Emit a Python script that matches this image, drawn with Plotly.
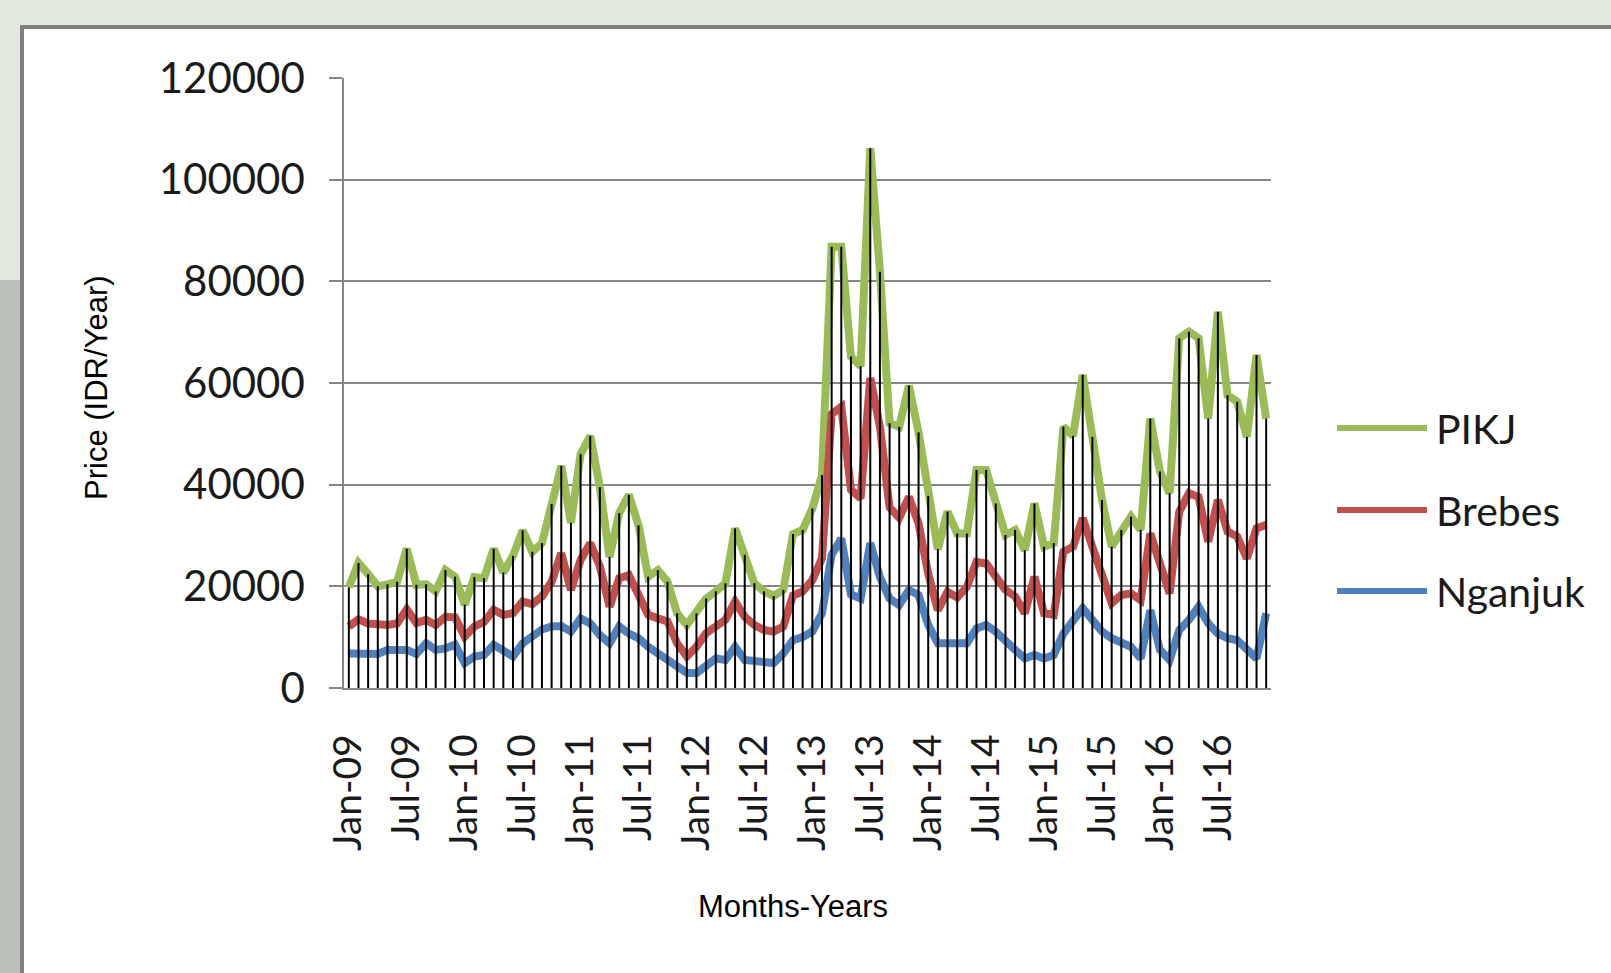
import plotly.graph_objects as go

MONTH_ABBR = ["Jan", "Feb", "Mar", "Apr", "May", "Jun", "Jul", "Aug", "Sep", "Oct", "Nov", "Dec"]
YEARS = ["09", "10", "11", "12", "13", "14", "15", "16"]
months = [f"{m}-{y}" for y in YEARS for m in MONTH_ABBR]
tick_labels = [f"{m}-{y}" for y in YEARS for m in ("Jan", "Jul")]

pikj = [
    19800, 24600, 22400, 20000, 20400, 20900, 27400, 20300, 20400, 19000, 23200, 21900,
    16400, 21800, 21600, 27400, 22700, 26000, 31000, 26800, 28500, 36200, 43700, 32500,
    46000, 49600, 39500, 25800, 34400, 38000, 32000, 21900, 23200, 20900, 14700, 12400,
    14700, 17600, 19000, 20600, 31400, 26200, 20600, 19000, 18100, 19300, 30300, 31100,
    35300, 41900, 86800, 86800, 65200, 63300, 106200, 81900, 52100, 51400, 59500, 50300,
    37800, 27300, 34700, 30400, 30400, 42900, 42900, 36300, 30100, 31100, 27100, 36300,
    27800, 28500, 51400, 49600, 61600, 49400, 37000, 27800, 31100, 33700, 31100, 53000,
    42600, 38300, 68800, 70100, 68800, 53000, 74000, 57600, 56300, 49400, 65500, 53000,
]
brebes = [
    12100, 13500, 12700, 12400, 12400, 12700, 15500, 12800, 13400, 12400, 14000, 13900,
    10100, 12100, 13000, 15400, 14400, 14700, 17000, 16500, 18000, 20900, 26500, 19300,
    25200, 28500, 23900, 16000, 21600, 22200, 18600, 14400, 13700, 13100, 8800, 6200,
    8100, 10800, 12100, 13400, 17000, 14000, 12400, 11400, 11100, 12100, 18200, 19000,
    21200, 25500, 53900, 55300, 39000, 37300, 61000, 51400, 35500, 33500, 37600, 32400,
    22500, 15300, 18900, 17800, 19900, 24800, 24500, 21900, 19300, 18000, 14700, 21900,
    14700, 14400, 26800, 27800, 33400, 27800, 21600, 16700, 18300, 18600, 17300, 30400,
    24500, 18600, 34700, 38300, 37600, 28800, 37000, 30800, 29800, 25500, 31400, 32100,
]
nganjuk = [
    6800, 6800, 6500, 6700, 7500, 7600, 7500, 6700, 8800, 7500, 7800, 8500,
    4900, 6200, 6500, 8500, 7500, 6200, 8800, 10400, 11500, 12100, 12200, 11100,
    13700, 12700, 10400, 8800, 12100, 10700, 9800, 8100, 6800, 5800, 4200, 3000,
    2900, 4500, 5800, 5500, 8100, 5500, 5200, 5200, 4900, 6800, 9400, 10000,
    11100, 14700, 26200, 29400, 18400, 17600, 28500, 21800, 17600, 16300, 19300, 18300,
    12400, 8800, 8800, 8800, 8800, 11700, 12400, 11100, 9100, 7500, 5800, 6500,
    5800, 6500, 10700, 13400, 15700, 13400, 11100, 9800, 9100, 8100, 5800, 15300,
    7500, 5500, 11400, 13400, 16000, 12700, 10700, 9800, 9400, 7800, 5800, 14700,
]

series_names = ["PIKJ", "Brebes", "Nganjuk"]
series_colors = ["#9bbb59", "#c0504d", "#4f81bd"]
series_values = [pikj, brebes, nganjuk]

W, H = 1611, 973
L, R, T, B = 344, 340, 78, 285
PW, PH = W - L - R, H - T - B


def px(xp):
    return (xp - L) / PW


def py(yp):
    return (T + PH - yp) / PH


fig = go.Figure()

for name, color, vals in zip(series_names, series_colors, series_values):
    fig.add_trace(go.Scatter(
        x=months, y=vals, mode="lines", name=name,
        line=dict(color=color, width=8), showlegend=False,
    ))

# drop lines from each month's highest point to the axis
dx, dy = [], []
for i, m in enumerate(months):
    top = max(s[i] for s in series_values)
    dx += [m, m, None]
    dy += [0, top, None]
fig.add_trace(go.Scatter(
    x=dx, y=dy, mode="lines", line=dict(color="#000000", width=2),
    showlegend=False, hoverinfo="skip",
))

shapes = [
    # left textured strip approximation
    dict(type="rect", xref="paper", yref="paper", layer="below",
         x0=px(-20), x1=px(21), y0=py(1100), y1=py(280),
         fillcolor="#bcc0bb", line=dict(width=0)),
    # white chart panel
    dict(type="rect", xref="paper", yref="paper", layer="below",
         x0=px(22), x1=px(1700), y0=py(1100), y1=py(27),
         fillcolor="#ffffff", line=dict(color="#808080", width=4)),
]

annotations = [
    dict(text="Price (IDR/Year)", xref="paper", yref="paper",
         x=px(96), y=py(388), showarrow=False, textangle=-90,
         font=dict(family="Liberation Sans, Arial", size=31, color="#000000"),
         xanchor="center", yanchor="middle"),
    dict(text="Months-Years", xref="paper", yref="paper",
         x=px(793), y=py(906), showarrow=False,
         font=dict(family="Liberation Sans, Arial", size=31, color="#000000"),
         xanchor="center", yanchor="middle"),
]

legend_rows = [428, 510, 591]
for name, color, yrow in zip(series_names, series_colors, legend_rows):
    shapes.append(dict(type="line", xref="paper", yref="paper",
                       x0=px(1337), x1=px(1427), y0=py(yrow), y1=py(yrow),
                       line=dict(color=color, width=6)))
    annotations.append(dict(text=name, xref="paper", yref="paper",
                            x=px(1434), y=py(yrow), showarrow=False,
                            xanchor="left", yanchor="middle",
                            font=dict(family="Lato", size=41, color="#1a1a1a")))

fig.update_layout(
    width=W, height=H,
    margin=dict(l=L, r=R, t=T, b=B),
    paper_bgcolor="#e1e8de",
    plot_bgcolor="rgba(0,0,0,0)",
    showlegend=False,
    shapes=shapes,
    annotations=annotations,
    font=dict(family="Lato", color="#1a1a1a"),
)

fig.update_xaxes(
    type="category", categoryorder="array", categoryarray=months,
    range=[-0.5, len(months) - 0.5],
    tickvals=tick_labels, ticktext=tick_labels,
    tickangle=-90, tickfont=dict(family="Lato", size=39, color="#1a1a1a"),
    ticks="", ticklabelstandoff=29,
    showline=True, linecolor="#868686", linewidth=1.5,
    showgrid=False, zeroline=False,
)
fig.update_yaxes(
    range=[0, 120000], dtick=20000, tick0=0, tickformat=".0f",
    tickfont=dict(family="Lato", size=42, color="#1a1a1a"),
    ticks="outside", ticklen=13, tickwidth=1.5, tickcolor="#868686",
    ticklabelstandoff=16,
    showline=True, linecolor="#868686", linewidth=1.5,
    showgrid=True, gridcolor="#868686", gridwidth=1.5,
    zeroline=False,
)

fig.write_html("out.html")
